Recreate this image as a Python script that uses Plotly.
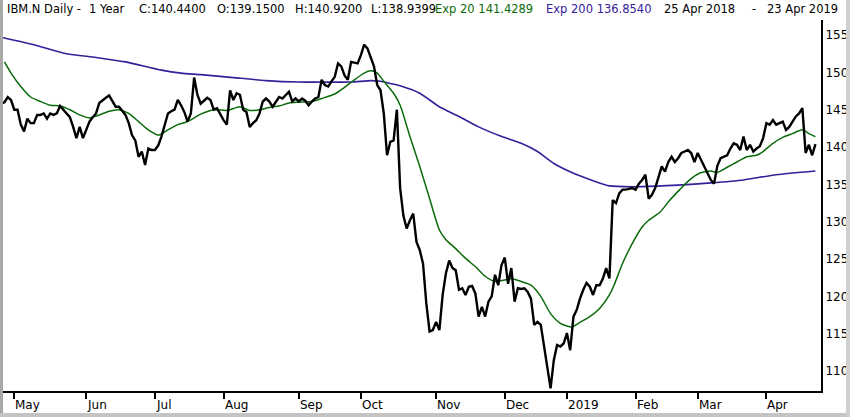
import pandas as pd
import plotly.graph_objects as go

# ---------------- data ----------------
start_date = "2018-04-25"
end_date = "2019-04-23"
holidays = ["2018-05-28", "2018-07-04", "2018-09-03", "2018-11-22", "2018-12-05",
            "2018-12-25", "2019-01-01", "2019-01-21", "2019-02-18", "2019-04-19"]

close = [
    145.8, 146.0, 146.7, 146.3, 145.0, 145.0, 143.0, 142.1, 143.8, 143.2,
    143.2, 144.3, 144.3, 144.5, 143.8, 144.5, 144.3, 144.5, 145.5, 145.0,
    144.6, 144.0, 142.7, 141.2, 142.7, 141.2, 142.3, 143.4, 144.0, 144.5,
    145.9, 146.3, 146.6, 146.9, 146.2, 145.4, 145.4, 144.8, 144.3, 143.2,
    141.6, 140.9, 138.7, 139.4, 137.6, 139.8, 139.6, 139.6, 140.2, 141.4,
    143.0, 144.5, 144.8, 145.0, 146.3, 145.6, 144.7, 143.4, 144.5, 149.3,
    147.0, 145.8, 146.2, 146.6, 146.3, 145.0, 145.2, 144.3, 143.6, 143.0,
    147.6, 146.3, 147.2, 147.0, 145.0, 144.7, 142.7, 143.2, 143.6, 144.5,
    146.1, 146.5, 146.1, 145.4, 146.1, 146.7, 146.5, 147.0, 147.4, 146.1,
    146.5, 146.1, 146.5, 146.2, 145.6, 146.1, 146.5, 146.7, 149.0, 148.3,
    148.1, 148.8, 149.4, 151.2, 150.8, 149.6, 149.0, 151.4, 151.3, 151.2,
    152.3, 153.7, 153.2, 151.9, 150.8, 148.3, 147.6, 144.5, 138.9, 140.7,
    140.9, 145.0, 134.5, 130.8, 129.1, 130.2, 131.1, 127.3, 126.2, 124.4,
    119.1, 115.3, 115.5, 116.6, 115.5, 120.2, 123.1, 124.8, 123.8, 123.5,
    120.9, 121.1, 120.2, 121.3, 121.4, 120.4, 117.3, 118.6, 117.3, 119.3,
    120.0, 122.9, 121.5, 124.2, 125.2, 121.7, 123.8, 119.3, 121.1, 121.0,
    121.1, 120.6, 119.7, 116.2, 116.6, 116.2, 113.3, 111.0, 107.7, 111.5,
    113.5, 113.3, 113.7, 115.1, 112.8, 117.3, 118.2, 119.7, 120.9, 121.8,
    121.3, 120.2, 121.5, 121.5, 122.4, 123.8, 122.4, 132.9, 132.5, 133.8,
    134.3, 134.3, 134.4, 134.5, 134.3, 135.1, 135.6, 136.3, 133.1, 133.6,
    134.5, 136.0, 137.4, 136.7, 138.0, 138.7, 138.0, 138.5, 139.2, 139.4,
    139.6, 139.2, 138.0, 139.2, 138.3, 137.6, 136.7, 135.6, 135.1, 137.5,
    138.5, 138.7, 138.9, 139.8, 140.5, 140.3, 139.6, 141.4, 139.6, 140.3,
    139.4, 139.8, 140.1, 141.2, 143.2, 143.0, 143.6, 143.0, 143.2, 143.4,
    142.3, 142.7, 143.4, 144.1, 144.5, 145.2, 139.2, 140.3, 138.9, 140.4,
]

# Exp 20 line, read at sample trading-day positions
ema20_idx = [1, 3, 6, 9, 12, 15, 18, 21, 24, 27, 30, 33, 36, 39, 42, 45, 48, 51, 54, 57,
             61, 65, 69, 73, 76, 79, 82, 85, 88, 91, 95, 98, 102, 105, 108, 111, 113, 115,
             117, 120, 122, 125, 128, 131, 134, 136, 139, 142, 145, 148, 151, 154, 156,
             159, 162, 165, 168, 171, 174.5, 176.5, 180, 183, 186, 187.5, 190, 193, 196,
             198, 201.5, 204.5, 207.5, 210.5, 213.5, 217, 219, 222, 225, 228, 231, 233,
             236, 239, 242, 245, 247, 249]
ema20_val = [151.4, 149.9, 148.1, 146.7, 146.1, 145.6, 145.5, 145.0, 144.3, 143.9, 144.3,
             144.8, 145.0, 144.5, 143.4, 142.3, 141.6, 142.3, 143.0, 143.4,
             144.4, 145.0, 144.9, 145.4, 144.9, 145.0, 145.3, 145.5, 145.9, 146.0, 146.1,
             146.5, 147.1, 148.0, 149.0, 149.9, 150.2, 149.9, 148.8, 147.2, 145.6, 141.4,
             137.4, 133.1, 128.9, 127.6, 126.4, 125.1, 124.0, 122.7, 122.0, 122.2, 122.4,
             122.0, 121.5, 120.0, 117.7, 116.4, 115.9, 116.4, 117.3, 118.4, 120.2, 121.6,
             124.4, 127.1, 129.3, 130.2, 131.3, 132.9, 134.3, 135.6, 136.5, 136.8, 136.6,
             137.3, 138.0, 138.7, 138.9, 139.4, 140.5, 141.3, 141.8, 142.3, 141.8, 141.4]

# Exp 200 line, read at sample trading-day positions
ema200_idx = [0, 10, 20, 29, 38, 49, 55, 61, 71, 81, 91, 98, 107, 113, 116, 119, 122, 128,
              134, 140, 146, 152.5, 159, 164, 169, 175, 181, 186, 196, 207, 217, 227, 237, 249]
ema200_val = [154.7, 153.7, 152.5, 152.0, 151.4, 150.3, 149.9, 149.7, 149.3, 148.9, 148.7,
              148.7, 148.7, 148.9, 148.8, 148.5, 148.2, 147.2, 145.4, 144.1, 142.7, 141.5,
              140.5, 139.4, 137.8, 136.5, 135.5, 134.8, 134.7, 134.9, 135.2, 135.6, 136.3, 136.8]

y_ticks = [110, 115, 120, 125, 130, 135, 140, 145, 150, 155]
month_labels = ["May", "Jun", "Jul", "Aug", "Sep", "Oct", "Nov", "Dec", "2019", "Feb", "Mar", "Apr"]

header_parts = [
    ("IBM.N Daily -", "#000000", 5),
    ("1 Year", "#000000", 87),
    ("C:140.4400", "#000000", 137),
    ("O:139.1500", "#000000", 215),
    ("H:140.9200", "#000000", 293),
    ("L:138.9399", "#000000", 369),
    ("Exp 20 141.4289", "#0b6b0b", 433),
    ("Exp 200 136.8540", "#33209a", 544),
    ("25 Apr 2018", "#000000", 662),
    ("-", "#000000", 750),
    ("23 Apr 2019", "#000000", 765),
]

# ---------------- derived ----------------
dates = pd.bdate_range(start_date, end_date)
dates = dates[~dates.isin(pd.to_datetime(holidays))]
x = list(range(len(dates)))

tick_pos = []
prev_month = dates[0].month
for i, d in enumerate(dates):
    if i > 0 and d.month != prev_month:
        tick_pos.append(i)
    prev_month = d.month

W, H = 850, 417
ML, MR, MT, MB = 1, 29, 20, 26
PW = W - ML - MR
PH = H - MT - MB

def px_to_paper_x(px):
    return (px - ML) / PW

def py_to_paper_y(py):
    return (H - MB - py) / PH

FONT = "DejaVu Sans"
GREEN = "#0b6b0b"
PURPLE = "#33209a"

fig = go.Figure()
fig.add_trace(go.Scatter(x=ema200_idx, y=ema200_val, mode="lines",
                         line=dict(color=PURPLE, width=1.6, shape="spline", smoothing=0.6),
                         hoverinfo="skip"))
fig.add_trace(go.Scatter(x=ema20_idx, y=ema20_val, mode="lines",
                         line=dict(color=GREEN, width=1.5, shape="spline", smoothing=0.6),
                         hoverinfo="skip"))
fig.add_trace(go.Scatter(x=x, y=close, mode="lines",
                         line=dict(color="#000000", width=2.4),
                         hoverinfo="skip"))

annotations = []
for text, color, px in header_parts:
    annotations.append(dict(text=text, xref="paper", yref="paper",
                            x=px_to_paper_x(px), y=py_to_paper_y(9),
                            xanchor="left", yanchor="middle", showarrow=False,
                            font=dict(family=FONT, size=11.5, color=color)))
for pos, lab in zip(tick_pos, month_labels):
    annotations.append(dict(text=lab, xref="x", yref="paper", x=pos,
                            y=py_to_paper_y(405), xanchor="left", yanchor="middle",
                            xshift=-1, showarrow=False,
                            font=dict(family=FONT, size=12, color="#000000")))

shapes = [
    dict(type="line", xref="paper", yref="paper",
         x0=px_to_paper_x(1.5), x1=px_to_paper_x(1.5), y0=py_to_paper_y(0), y1=py_to_paper_y(416),
         line=dict(color="#a8a8a8", width=3)),
    dict(type="line", xref="paper", yref="paper",
         x0=px_to_paper_x(0), x1=px_to_paper_x(850), y0=py_to_paper_y(415), y1=py_to_paper_y(415),
         line=dict(color="#c4c4c4", width=4)),
    dict(type="line", xref="paper", yref="paper",
         x0=px_to_paper_x(848), x1=px_to_paper_x(848), y0=py_to_paper_y(0), y1=py_to_paper_y(417),
         line=dict(color="#d0d0d0", width=4)),
]

fig.update_layout(
    width=W, height=H,
    margin=dict(l=ML, r=MR, t=MT, b=MB, pad=0),
    paper_bgcolor="white", plot_bgcolor="white",
    showlegend=False,
    font=dict(family=FONT, size=12, color="#000000"),
    annotations=annotations,
    shapes=shapes,
    xaxis=dict(range=[-0.06, 250.7], showgrid=False, zeroline=False,
               showline=True, linecolor="#000000", linewidth=2,
               tickmode="array", tickvals=tick_pos, ticks="outside", ticklen=6,
               tickwidth=2, tickcolor="#000000", showticklabels=False, fixedrange=True),
    yaxis=dict(range=[107.34, 157.01], side="right", showgrid=False, zeroline=False,
               showline=True, linecolor="#000000", linewidth=2, mirror=False,
               tickmode="array", tickvals=y_ticks, ticks="", ticklen=0,
               tickfont=dict(family=FONT, size=12, color="#000000"), fixedrange=True),
)

fig.write_html("out.html",
               config={"displayModeBar": False, "staticPlot": True},
               post_script="document.body.style.margin='0';document.body.style.padding='0';")
